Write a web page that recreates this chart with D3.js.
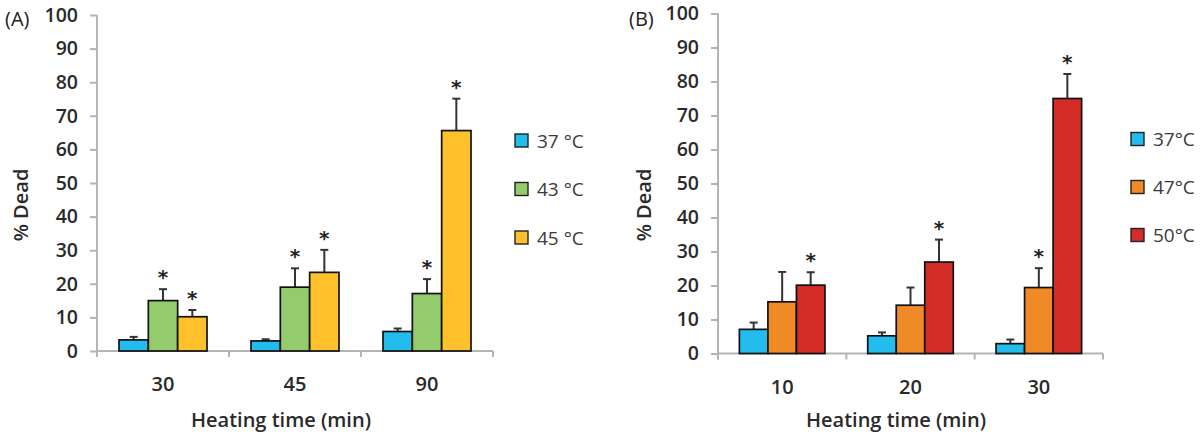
<!DOCTYPE html>
<html><head><meta charset="utf-8">
<script src="https://cdn.jsdelivr.net/npm/d3@7/dist/d3.min.js"></script>
<style>body{margin:0;background:#fff}svg{display:block}</style>
</head><body><svg id="c" width="1200" height="434"></svg>
<script>
// Panel A
const catsA = ["30", "45", "90"];
const seriesA = ["37 °C", "43 °C", "45 °C"];
const colorsA = ["#22bdec", "#93cb6d", "#fec12c"];
const meanA37 = [3.3, 3.0, 5.8];
const errA37 = [0.9, 0.5, 0.9];
const meanA43 = [15.0, 19.0, 17.1];
const errA43 = [3.4, 5.6, 4.3];
const meanA45 = [10.2, 23.4, 65.6];
const errA45 = [2.0, 6.7, 9.5];
const sigA37 = [0, 0, 0];
const sigA43 = [1, 1, 1];
const sigA45 = [1, 1, 1];
// Panel B
const catsB = ["10", "20", "30"];
const seriesB = ["37°C", "47°C", "50°C"];
const colorsB = ["#22bdec", "#f08a26", "#d42c27"];
const meanB37 = [7.1, 5.2, 2.9];
const errB37 = [2.0, 1.0, 1.2];
const meanB47 = [15.2, 14.2, 19.4];
const errB47 = [8.8, 5.2, 5.7];
const meanB50 = [20.1, 26.9, 75.0];
const errB50 = [3.8, 6.6, 7.2];
const sigB37 = [0, 0, 0];
const sigB47 = [0, 0, 1];
const sigB50 = [1, 1, 1];
const yTicks = [0, 10, 20, 30, 40, 50, 60, 70, 80, 90, 100];

const svg = d3.select("#c");
const FONT = "'Open Sans', sans-serif";

function panel(o) {
  const g = svg.append("g");
  const x = d3.scaleBand().domain(o.cats).range([o.x0, o.x1]);
  const xi = d3.scaleBand().domain(o.series).range([0, x.bandwidth()]).paddingInner(0).paddingOuter(0.75);
  const y = d3.scaleLinear().domain([0, 100]).range([o.yb, o.yt]);

  // y axis
  const ya = g.append("g").attr("transform", `translate(${o.x0},0)`)
    .call(d3.axisLeft(y).tickValues(yTicks).tickSize(7).tickPadding(12).tickFormat(d3.format("d")));
  ya.select(".domain").attr("stroke", "#b4b4b4").attr("stroke-width", 2).attr("d", `M0,${o.yt}V${o.yb + 6}`);
  ya.selectAll(".tick line").attr("stroke", "#b4b4b4").attr("stroke-width", 2);
  ya.selectAll(".tick text").attr("font-family", FONT).attr("font-size", 19.5).attr("font-weight", 600).attr("fill", "#2a2a2a");

  // x axis
  const xa = g.append("g").attr("transform", `translate(0,${o.yb})`)
    .call(d3.axisBottom(x).tickSize(0).tickPadding(26));
  xa.select(".domain").attr("stroke", "#b4b4b4").attr("stroke-width", 2).attr("d", `M${o.x0},0H${o.x1}`);
  xa.selectAll(".tick text").attr("font-family", FONT).attr("font-size", 20).attr("font-weight", 600).attr("fill", "#2a2a2a");
  const bounds = o.cats.map(c => x(c) + x.bandwidth()).concat([o.x0]);
  g.append("g").selectAll("line").data(bounds).join("line")
    .attr("x1", d => d).attr("x2", d => d).attr("y1", o.yb).attr("y2", o.yb + 6)
    .attr("stroke", "#b4b4b4").attr("stroke-width", 2);

  // bars
  o.series.forEach((s, si) => {
    const means = o.means[si], errs = o.errs[si], sig = o.sigs[si];
    const sg = g.append("g");
    const data = o.cats.map((c, ci) => ({c, v: means[ci], e: errs[ci], s: sig[ci]}));
    const bw = xi.bandwidth();
    sg.selectAll("line.err").data(data).join("line").attr("class", "err")
      .attr("x1", d => x(d.c) + xi(s) + bw / 2).attr("x2", d => x(d.c) + xi(s) + bw / 2)
      .attr("y1", d => y(d.v)).attr("y2", d => y(d.v + d.e))
      .attr("stroke", "#333").attr("stroke-width", 2);
    sg.selectAll("line.cap").data(data).join("line").attr("class", "cap")
      .attr("x1", d => x(d.c) + xi(s) + bw / 2 - 4).attr("x2", d => x(d.c) + xi(s) + bw / 2 + 4)
      .attr("y1", d => y(d.v + d.e)).attr("y2", d => y(d.v + d.e))
      .attr("stroke", "#333").attr("stroke-width", 2);
    sg.selectAll("rect").data(data).join("rect")
      .attr("x", d => x(d.c) + xi(s)).attr("width", bw)
      .attr("y", d => y(d.v)).attr("height", d => y(0) - y(d.v))
      .attr("fill", o.colors[si]).attr("stroke", "#111").attr("stroke-width", 1.7);
    sg.selectAll("text.star").data(data.filter(d => d.s)).join("text").attr("class", "star")
      .attr("x", d => x(d.c) + xi(s) + bw / 2).attr("y", d => y(d.v + d.e) - 5)
      .attr("text-anchor", "middle").attr("font-family", "'DejaVu Sans', sans-serif")
      .attr("font-size", 20).attr("font-weight", 700).attr("fill", "#222").text("*");
  });

  // legend
  const lg = g.append("g");
  o.series.forEach((s, si) => {
    const cy = o.legY + si * o.legStep;
    lg.append("rect").attr("x", o.legX).attr("y", cy - 7).attr("width", 13).attr("height", 13)
      .attr("fill", o.colors[si]).attr("stroke", "#222").attr("stroke-width", 1.4);
    lg.append("text").attr("x", o.legX + 22).attr("y", cy).attr("dy", "0.35em")
      .attr("font-family", FONT).attr("font-size", 19).attr("fill", "#3a3a3a").text(s);
  });

  // labels
  g.append("text").attr("transform", `translate(${o.ylabX},205) rotate(-90)`)
    .attr("text-anchor", "middle").attr("dy", "0.35em").attr("font-family", FONT).attr("font-size", 20).attr("font-weight", 600)
    .attr("fill", "#2a2a2a").text("% Dead");
  g.append("text").attr("x", o.xlabX).attr("y", 427)
    .attr("text-anchor", "middle").attr("font-family", FONT).attr("font-size", 20).attr("font-weight", 600)
    .attr("fill", "#2a2a2a").text("Heating  time (min)");
  g.append("text").attr("x", o.tagX).attr("y", 26)
    .attr("font-family", FONT).attr("font-size", 20).attr("fill", "#222").text(o.tag);
}

panel({cats: catsA, series: seriesA, colors: colorsA,
  means: [meanA37, meanA43, meanA45], errs: [errA37, errA43, errA45], sigs: [sigA37, sigA43, sigA45],
  x0: 97, x1: 493, yt: 15, yb: 351, legX: 515, legY: 141, legStep: 48.5, ylabX: 21, xlabX: 281, tagX: 5, tag: "(A)"});
panel({cats: catsB, series: seriesB, colors: colorsB,
  means: [meanB37, meanB47, meanB50], errs: [errB37, errB47, errB50], sigs: [sigB37, sigB47, sigB50],
  x0: 718, x1: 1103, yt: 13.5, yb: 353.5, legX: 1131, legY: 139.5, legStep: 48, ylabX: 644, xlabX: 896, tagX: 629, tag: "(B)"});
</script></body></html>
